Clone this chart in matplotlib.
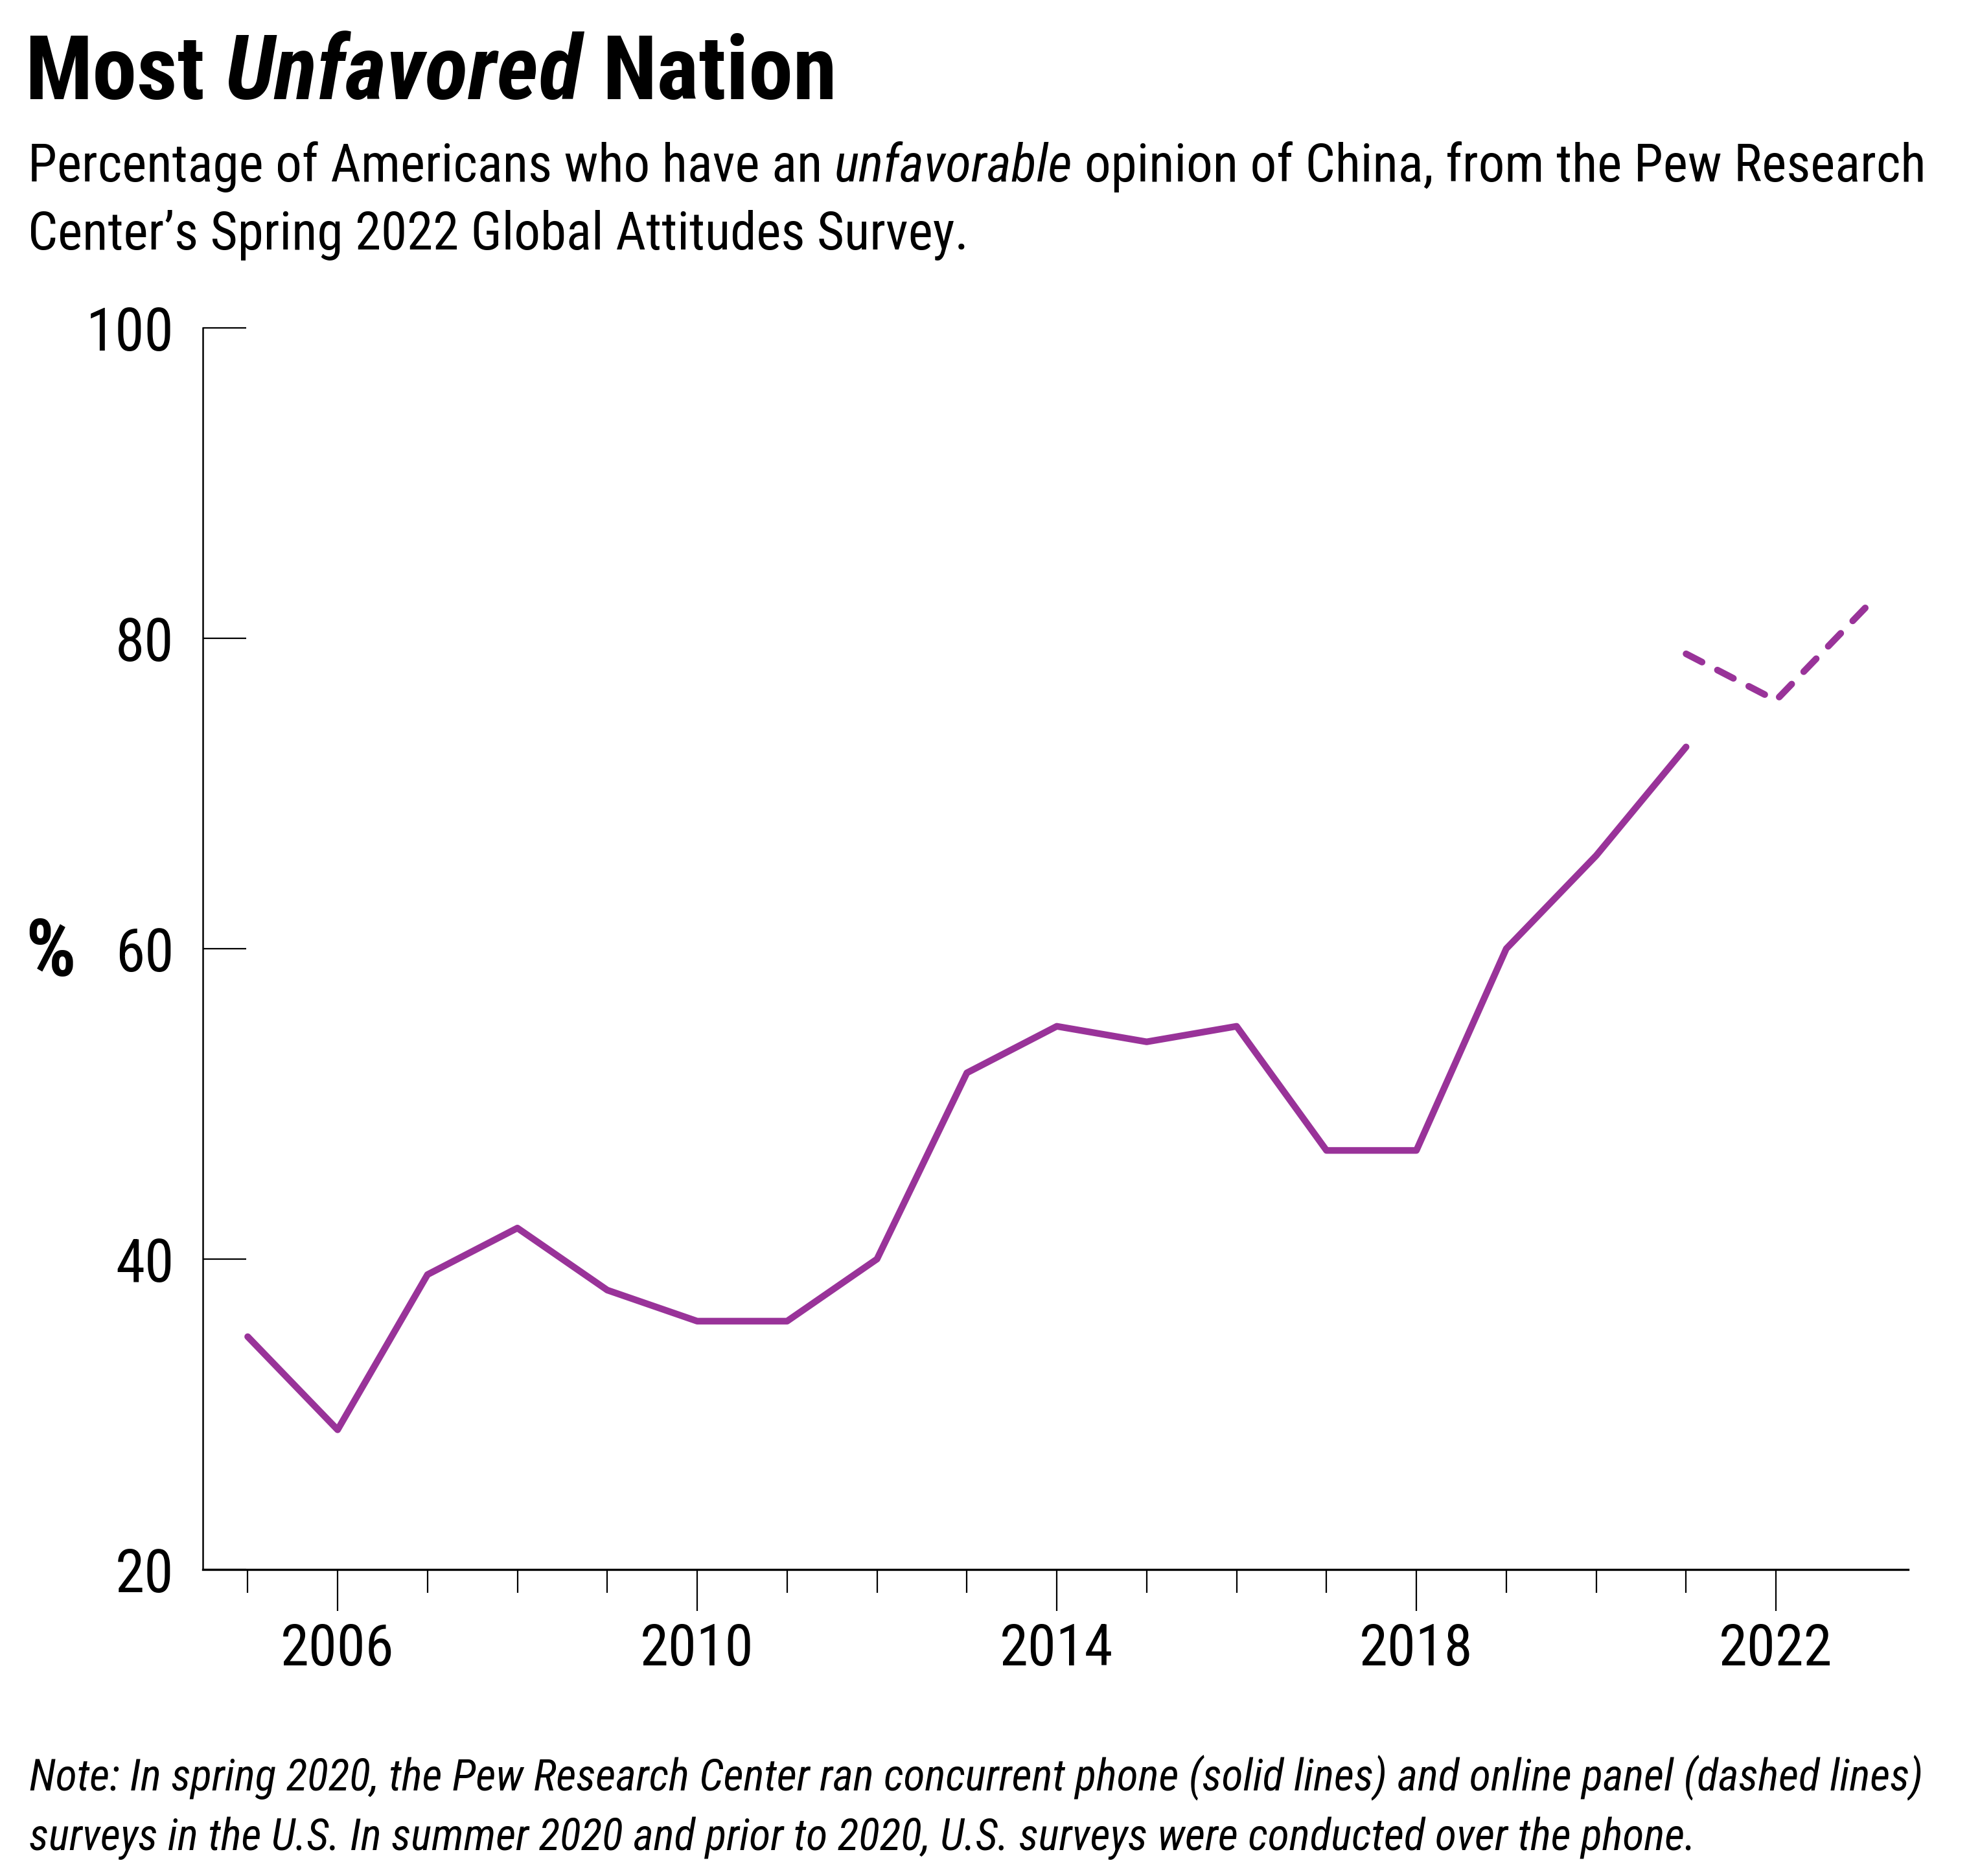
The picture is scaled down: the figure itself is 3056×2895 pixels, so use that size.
import matplotlib
matplotlib.use("Agg")
import matplotlib.pyplot as plt
from matplotlib.ticker import FixedLocator

plt.rcParams['font.family'] = ['Roboto Condensed', 'Liberation Sans Narrow', 'DejaVu Sans']
plt.rcParams['font.stretch'] = 'condensed'

# data
phone_years = [2005, 2006, 2007, 2008, 2009, 2010, 2011, 2012, 2013, 2014,
               2015, 2016, 2017, 2018, 2019, 2020, 2021]
phone_values = [35, 29, 39, 42, 38, 36, 36, 40, 52, 55, 54, 55, 47, 47, 60, 66, 73]
online_years = [2021, 2022, 2023]
online_values = [79, 76, 82]

y_ticks = [20, 40, 60, 80, 100]
x_major = [2006, 2010, 2014, 2018, 2022]
x_minor = [y for y in range(2005, 2023) if y not in x_major]

purple = "#993399"

fig = plt.figure(figsize=(15.28, 14.475), dpi=200)
ax = fig.add_axes([0.1024, 0.1634, 0.9637 - 0.1024, 0.8252 - 0.1634])

ax.plot(phone_years, phone_values, color=purple, lw=3.7, solid_capstyle='round',
        solid_joinstyle='round')
ax.plot(online_years, online_values, color=purple, lw=3.7, linestyle=(0, (2.7, 2.6)),
        dash_capstyle='round', dash_joinstyle='round')

ax.set_xlim(2004.5, 2023.47)
ax.set_ylim(20, 100)

ax.spines['top'].set_visible(False)
ax.spines['right'].set_visible(False)
ax.spines['left'].set_linewidth(0.9)
ax.spines['bottom'].set_linewidth(1.2)

ax.set_yticks(y_ticks)
ax.set_yticklabels([str(v) for v in y_ticks])
ax.tick_params(axis='y', direction='in', length=24, width=0.8, pad=16, labelsize=33)

ax.xaxis.set_major_locator(FixedLocator(x_major))
ax.xaxis.set_minor_locator(FixedLocator(x_minor))
ax.set_xticklabels([str(v) for v in x_major])
ax.tick_params(axis='x', which='major', direction='out', length=23, width=0.8,
               pad=6, labelsize=32)
ax.tick_params(axis='x', which='minor', direction='out', length=13, width=0.8)

fig.text(0.0255, 0.4915, "%", fontsize=44, fontweight='bold', ha='center', va='center')

renderer = fig.canvas.get_renderer()
inv = fig.transFigure.inverted()


def rich_line(x, y, parts, size, weight='normal'):
    # pieces of one line, each with its own style, laid out left to right
    probe1 = fig.text(0, 0, "a a", fontsize=size, fontweight=weight)
    probe2 = fig.text(0, 0, "aa", fontsize=size, fontweight=weight)
    space = (probe1.get_window_extent(renderer).width
             - probe2.get_window_extent(renderer).width)
    probe1.remove()
    probe2.remove()
    x0 = fig.transFigure.transform((x, y))[0]
    xpix = x0
    made = []
    for txt, style in parts:
        if txt.startswith(" "):
            xpix += space
        t = fig.text(inv.transform((xpix, 0))[0], y, txt.strip(), fontsize=size,
                     fontstyle=style, fontweight=weight, ha='left', va='baseline')
        made.append(t)
        xpix = t.get_window_extent(renderer).x1
        if txt.endswith(" "):
            xpix += space
    return made, xpix - x0


def fitted_line(x, y, parts, width_px, weight='normal', size=None):
    # when no size is given, pick the one that makes the line width_px wide
    if size is None:
        made, w = rich_line(x, y, parts, 30, weight)
        for t in made:
            t.remove()
        size = 30 * width_px / w
    rich_line(x, y, parts, size, weight)
    return size


fitted_line(0.0124, 0.9471, [("Most ", 'normal'), ("Unfavored", 'italic'),
                             (" Nation", 'normal')], 1255, weight='bold')
sub = fitted_line(0.0141, 0.9033, [("Percentage of Americans who have an ", 'normal'),
                                   ("unfavorable", 'italic'),
                                   (" opinion of China, from the Pew Research", 'normal')], 2930)
fitted_line(0.0141, 0.8670, [("Center\u2019s Spring 2022 Global Attitudes Survey.", 'normal')],
            0, size=sub)

note = fitted_line(0.0147, 0.0459,
                   [("Note: In spring 2020, the Pew Research Center ran concurrent phone "
                     "(solid lines) and online panel (dashed lines)", 'italic')], 2925)
fitted_line(0.0147, 0.0138,
            [("surveys in the U.S. In summer 2020 and prior to 2020, U.S. surveys "
              "were conducted over the phone.", 'italic')], 0, size=note)

fig.savefig("out.png", dpi=200, facecolor='white')
